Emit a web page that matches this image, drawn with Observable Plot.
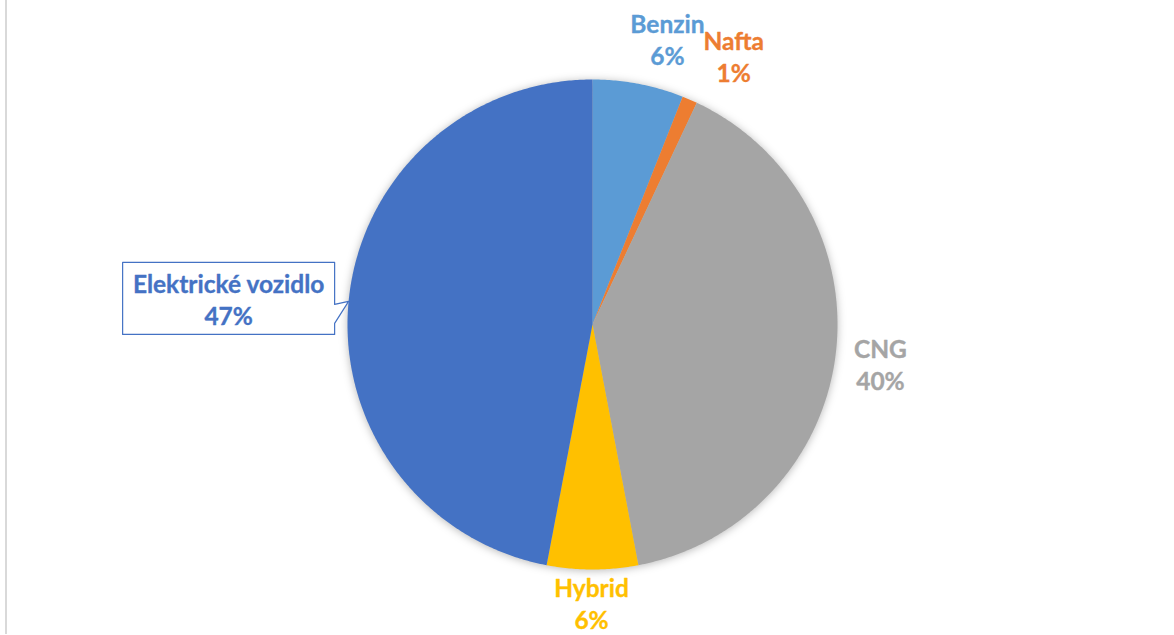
<!DOCTYPE html>
<html>
<head>
<meta charset="utf-8">
<script src="https://cdn.jsdelivr.net/npm/d3@7"></script>
<script src="https://cdn.jsdelivr.net/npm/@observablehq/plot@0.6"></script>
<style>
  html, body { margin: 0; padding: 0; background: #fff; }
  #chart { position: relative; width: 1174px; height: 635px; }
  #chart::before { content: ""; position: absolute; left: 5px; top: 0; width: 2px; height: 634px; background: #d9d9d9; }
  #chart svg { display: block; }
</style>
</head>
<body>
<div id="chart"></div>
<script>
// Fuel type shares (%)
const categories = ["Benzin", "Nafta", "CNG", "Hybrid", "Elektrické vozidlo"];
const shares = [6, 1, 40, 6, 47];
const sliceColors = ["#5B9BD5", "#ED7D31", "#A5A5A5", "#FFC000", "#4472C4"];

// Layout
const W = 1174, H = 635;
const cx = 592, cy = 324, R = 245;
const fontSize = 24.5;
// Label anchor in polar form: angle (deg, clockwise from 12 o'clock), distance in radii
const labelPlacement = {
  "Benzin": {angle: 14.7, dist: 1.205},
  "Nafta": {angle: 27.7, dist: 1.24},
  "CNG": {angle: 97.7, dist: 1.186},
  "Hybrid": {angle: 180.2, dist: 1.137},
  "Elektrické vozidlo": {angle: 274.1, dist: 1.489}
};
const callout = "Elektrické vozidlo";
const calloutBox = {halfWidth: 106, halfHeight: 36, notchTop: 6, notchBottom: 25};

const data = categories.map((name, i) => ({name, share: shares[i]}));
const arcs = d3.pie().sort(null).value(d => d.share)(data);

// Wedge outlines in unit-circle coordinates (y up)
const wedgePoints = [];
for (const a of arcs) {
  const name = a.data.name;
  const n = Math.max(2, Math.ceil((a.endAngle - a.startAngle) / (Math.PI / 360)));
  wedgePoints.push({name, x: 0, y: 0});
  for (let k = 0; k <= n; k++) {
    const t = a.startAngle + (a.endAngle - a.startAngle) * k / n;
    wedgePoints.push({name, x: Math.sin(t), y: Math.cos(t)});
  }
}

// Label anchors
const labels = data.map(d => {
  const p = labelPlacement[d.name];
  const t = p.angle * Math.PI / 180;
  return {name: d.name, text: `${d.name}\n${d.share}%`, x: p.dist * Math.sin(t), y: p.dist * Math.cos(t)};
});

// Callout box with a pointer to the middle of its wedge's rim
const toUnit = (px, py) => ({x: (px - cx) / R, y: (cy - py) / R});
const cl = labels.find(d => d.name === callout);
const cArc = arcs.find(a => a.data.name === callout);
const mid = (cArc.startAngle + cArc.endAngle) / 2;
const bcx = cx + cl.x * R, bcy = cy - cl.y * R;
const {halfWidth: hw, halfHeight: hh, notchTop, notchBottom} = calloutBox;
const boxPoints = [
  toUnit(bcx - hw, bcy - hh),
  toUnit(bcx + hw, bcy - hh),
  toUnit(bcx + hw, bcy + notchTop),
  {x: Math.sin(mid), y: Math.cos(mid)},
  toUnit(bcx + hw, bcy + notchBottom),
  toUnit(bcx + hw, bcy + hh),
  toUnit(bcx - hw, bcy + hh)
];

const chart = Plot.plot({
  width: W,
  height: H,
  margin: 0,
  style: {fontFamily: "Lato, 'Open Sans', sans-serif", background: "transparent", overflow: "visible"},
  x: {domain: [-1, 1], range: [cx - R, cx + R], axis: null},
  y: {domain: [-1, 1], range: [cy + R, cy - R], axis: null},
  color: {domain: categories, range: sliceColors},
  marks: [
    Plot.line(wedgePoints, {x: "x", y: "y", z: "name", fill: "name", stroke: "none", curve: "linear-closed"}),
    Plot.line(boxPoints, {x: "x", y: "y", fill: "white", stroke: sliceColors[categories.indexOf(callout)], strokeWidth: 1.2, curve: "linear-closed"}),
    Plot.text(labels, {
      x: "x", y: "y", text: "text", fill: "name", stroke: "name", strokeWidth: 0.35,
      fontSize, fontWeight: "bold", lineAnchor: "middle", lineHeight: 1.3, textAnchor: "middle"
    })
  ]
});

// soft shadow around the pie
d3.select(chart).select('g[aria-label="line"]').style("filter", "drop-shadow(0px 1px 4px rgba(0,0,0,0.28))");

document.getElementById("chart").appendChild(chart);
</script>
</body>
</html>
